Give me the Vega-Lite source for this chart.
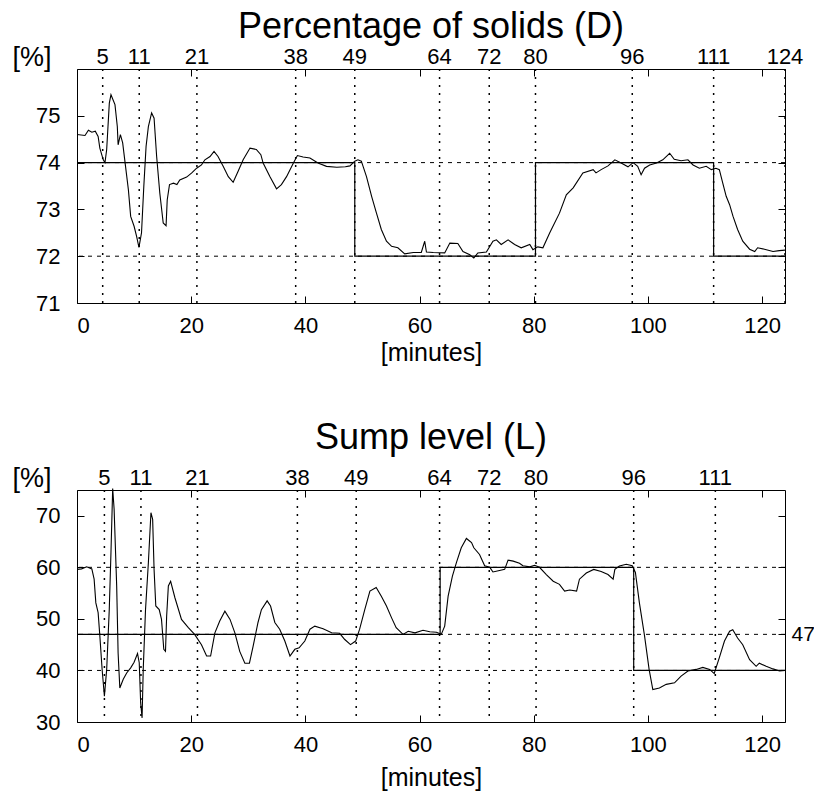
{
  "$schema": "https://vega.github.io/schema/vega-lite/v6.json",
  "padding": {"left": 11, "top": 8, "right": 0, "bottom": 0},
  "spacing": 53,
  "config": {
    "font": "Liberation Sans",
    "view": {"stroke": "black", "strokeWidth": 1},
    "axis": {"labelFont": "Liberation Sans", "labelColor": "black", "tickColor": "black", "domain": false, "grid": false, "titleFont": "Liberation Sans", "titleColor": "black", "titleFontWeight": "normal"},
    "title": {"font": "Liberation Sans", "fontWeight": "normal", "color": "black", "fontSize": 36}
  },
  "datasets": {
    "D": [
      {"t":0,"v":74.60},{"t":1.4,"v":74.58},{"t":2.0,"v":74.69},{"t":2.6,"v":74.65},{"t":3.2,"v":74.67},{"t":3.7,"v":74.56},{"t":4.0,"v":74.31},{"t":4.6,"v":74.06},{"t":4.9,"v":74.00},{"t":5.2,"v":74.28},{"t":5.66,"v":75.27},{"t":5.95,"v":75.45},{"t":6.65,"v":75.24},{"t":7.06,"v":74.77},{"t":7.2,"v":74.38},{"t":7.6,"v":74.60},{"t":8.0,"v":74.42},{"t":8.5,"v":73.92},{"t":9.0,"v":73.42},{"t":9.4,"v":72.85},{"t":10.0,"v":72.64},{"t":10.45,"v":72.42},{"t":10.85,"v":72.19},{"t":11.3,"v":72.50},{"t":11.7,"v":73.49},{"t":12.1,"v":74.35},{"t":12.5,"v":74.77},{"t":13.07,"v":75.06},{"t":13.5,"v":74.95},{"t":13.95,"v":74.13},{"t":14.5,"v":73.35},{"t":15.1,"v":72.71},{"t":15.6,"v":72.65},{"t":15.8,"v":73.20},{"t":16.2,"v":73.53},{"t":16.9,"v":73.56},{"t":17.5,"v":73.53},{"t":18.0,"v":73.63},{"t":19.2,"v":73.69},{"t":20.1,"v":73.78},{"t":20.95,"v":73.88},{"t":21.8,"v":73.95},{"t":22.4,"v":74.06},{"t":23.3,"v":74.13},{"t":24.0,"v":74.24},{"t":24.7,"v":74.13},{"t":25.6,"v":73.92},{"t":26.5,"v":73.70},{"t":27.35,"v":73.58},{"t":28.2,"v":73.81},{"t":29.1,"v":74.06},{"t":30.3,"v":74.31},{"t":31.4,"v":74.28},{"t":32.2,"v":74.17},{"t":32.6,"v":73.99},{"t":33.8,"v":73.70},{"t":34.95,"v":73.44},{"t":35.8,"v":73.53},{"t":36.7,"v":73.70},{"t":37.9,"v":73.99},{"t":38.6,"v":74.15},{"t":39.6,"v":74.12},{"t":40.8,"v":74.10},{"t":42.2,"v":73.99},{"t":43.7,"v":73.92},{"t":45.5,"v":73.90},{"t":47.0,"v":73.91},{"t":47.8,"v":73.93},{"t":48.65,"v":74.03},{"t":49.2,"v":74.06},{"t":49.8,"v":74.03},{"t":50.7,"v":73.70},{"t":51.6,"v":73.28},{"t":52.45,"v":72.92},{"t":53.3,"v":72.57},{"t":54.2,"v":72.32},{"t":55.1,"v":72.21},{"t":56.2,"v":72.18},{"t":57.4,"v":72.05},{"t":58.9,"v":72.08},{"t":60.3,"v":72.08},{"t":60.9,"v":72.32},{"t":61.2,"v":72.09},{"t":62.4,"v":72.08},{"t":64.4,"v":72.07},{"t":65.3,"v":72.28},{"t":66.7,"v":72.27},{"t":67.6,"v":72.10},{"t":68.8,"v":72.03},{"t":69.5,"v":71.96},{"t":70.2,"v":72.07},{"t":71.7,"v":72.09},{"t":72.85,"v":72.32},{"t":73.45,"v":72.35},{"t":74.3,"v":72.25},{"t":75.5,"v":72.35},{"t":76.65,"v":72.25},{"t":77.8,"v":72.18},{"t":79.3,"v":72.25},{"t":79.85,"v":72.14},{"t":80.7,"v":72.20},{"t":81.6,"v":72.18},{"t":82.8,"v":72.50},{"t":84.5,"v":72.92},{"t":85.7,"v":73.31},{"t":86.9,"v":73.46},{"t":88.6,"v":73.78},{"t":90.4,"v":73.85},{"t":90.9,"v":73.78},{"t":91.8,"v":73.85},{"t":93.0,"v":73.93},{"t":94.2,"v":74.06},{"t":95.3,"v":73.99},{"t":96.5,"v":73.91},{"t":97.4,"v":74.00},{"t":98.2,"v":73.92},{"t":98.8,"v":73.74},{"t":99.4,"v":73.88},{"t":100.3,"v":73.95},{"t":101.5,"v":73.99},{"t":102.6,"v":74.06},{"t":103.8,"v":74.20},{"t":104.6,"v":74.07},{"t":105.8,"v":74.04},{"t":107.0,"v":74.06},{"t":107.9,"v":73.95},{"t":109.0,"v":73.88},{"t":110.2,"v":73.92},{"t":111.1,"v":73.85},{"t":111.9,"v":73.88},{"t":112.5,"v":73.85},{"t":113.1,"v":73.56},{"t":113.7,"v":73.28},{"t":114.3,"v":73.10},{"t":114.9,"v":72.85},{"t":115.7,"v":72.57},{"t":116.6,"v":72.32},{"t":117.8,"v":72.15},{"t":118.7,"v":72.10},{"t":119.2,"v":72.18},{"t":120.4,"v":72.15},{"t":121.9,"v":72.10},{"t":123.0,"v":72.12},{"t":124.0,"v":72.13}
    ],
    "L": [
      {"t":0,"v":59.6},{"t":0.8,"v":59.7},{"t":1.7,"v":60.1},{"t":2.6,"v":59.7},{"t":3.0,"v":57.7},{"t":3.3,"v":53.1},{"t":3.7,"v":51.2},{"t":4.0,"v":46.7},{"t":4.4,"v":40.2},{"t":4.8,"v":35.0},{"t":5.2,"v":40.2},{"t":5.65,"v":51.8},{"t":5.95,"v":62.9},{"t":6.25,"v":75.3},{"t":6.5,"v":71.3},{"t":6.95,"v":56.4},{"t":7.2,"v":43.4},{"t":7.5,"v":36.6},{"t":8.1,"v":38.3},{"t":8.7,"v":39.5},{"t":9.4,"v":40.5},{"t":10.0,"v":41.6},{"t":10.6,"v":43.3},{"t":10.9,"v":41.5},{"t":11.15,"v":33.7},{"t":11.4,"v":30.8},{"t":11.6,"v":40.2},{"t":12.0,"v":51.8},{"t":12.5,"v":60.9},{"t":12.95,"v":70.6},{"t":13.25,"v":69.3},{"t":13.5,"v":59.6},{"t":13.8,"v":52.5},{"t":14.4,"v":51.8},{"t":14.8,"v":49.9},{"t":15.2,"v":44.1},{"t":15.5,"v":43.7},{"t":15.7,"v":50.5},{"t":16.0,"v":56.4},{"t":16.4,"v":57.3},{"t":17.15,"v":54.1},{"t":18.3,"v":49.9},{"t":19.5,"v":48.3},{"t":20.6,"v":47.0},{"t":21.8,"v":45.0},{"t":22.7,"v":42.8},{"t":23.4,"v":42.8},{"t":24.15,"v":47.3},{"t":25.0,"v":49.6},{"t":25.9,"v":51.5},{"t":26.8,"v":49.9},{"t":27.65,"v":47.3},{"t":28.5,"v":43.7},{"t":29.4,"v":41.4},{"t":30.2,"v":41.4},{"t":30.85,"v":44.7},{"t":31.7,"v":49.3},{"t":32.3,"v":51.8},{"t":33.3,"v":53.5},{"t":33.9,"v":52.5},{"t":34.65,"v":49.3},{"t":35.5,"v":48.0},{"t":36.4,"v":45.7},{"t":37.3,"v":42.8},{"t":38.15,"v":44.1},{"t":38.9,"v":44.4},{"t":39.9,"v":45.7},{"t":40.8,"v":48.0},{"t":41.65,"v":48.6},{"t":43.1,"v":48.1},{"t":44.6,"v":47.3},{"t":46.0,"v":47.2},{"t":46.9,"v":46.0},{"t":47.9,"v":45.0},{"t":48.8,"v":45.7},{"t":49.5,"v":48.0},{"t":50.4,"v":51.8},{"t":51.3,"v":55.4},{"t":52.4,"v":56.1},{"t":53.3,"v":54.4},{"t":54.2,"v":52.5},{"t":55.1,"v":50.2},{"t":55.9,"v":48.3},{"t":57.1,"v":47.0},{"t":58.0,"v":47.6},{"t":59.2,"v":47.3},{"t":60.6,"v":47.8},{"t":61.8,"v":47.5},{"t":62.95,"v":47.4},{"t":63.8,"v":47.0},{"t":64.4,"v":48.6},{"t":65.0,"v":54.4},{"t":65.75,"v":58.3},{"t":66.45,"v":60.9},{"t":67.3,"v":63.8},{"t":68.2,"v":65.6},{"t":69.1,"v":64.8},{"t":69.5,"v":63.8},{"t":70.5,"v":62.5},{"t":71.4,"v":60.3},{"t":72.3,"v":60.0},{"t":72.85,"v":59.1},{"t":74.0,"v":59.4},{"t":74.9,"v":59.6},{"t":75.5,"v":61.4},{"t":76.4,"v":61.2},{"t":77.5,"v":60.8},{"t":78.1,"v":60.3},{"t":79.3,"v":60.1},{"t":80.15,"v":60.4},{"t":81.0,"v":60.0},{"t":82.2,"v":58.6},{"t":83.4,"v":57.3},{"t":84.5,"v":56.7},{"t":85.4,"v":55.4},{"t":86.3,"v":55.6},{"t":87.5,"v":55.4},{"t":88.0,"v":57.7},{"t":89.2,"v":58.9},{"t":90.5,"v":59.6},{"t":91.8,"v":59.2},{"t":93.0,"v":58.6},{"t":93.9,"v":57.7},{"t":94.2,"v":59.6},{"t":95.0,"v":60.25},{"t":96.2,"v":60.6},{"t":97.25,"v":60.3},{"t":97.8,"v":59.0},{"t":98.5,"v":53.1},{"t":99.4,"v":46.7},{"t":100.2,"v":40.2},{"t":100.85,"v":36.3},{"t":102.0,"v":36.6},{"t":103.2,"v":37.3},{"t":104.65,"v":37.6},{"t":105.8,"v":38.9},{"t":107.0,"v":39.9},{"t":108.45,"v":40.2},{"t":109.6,"v":40.6},{"t":110.8,"v":40.2},{"t":111.6,"v":39.4},{"t":112.5,"v":42.5},{"t":113.4,"v":45.7},{"t":114.3,"v":47.6},{"t":114.85,"v":47.9},{"t":115.7,"v":46.3},{"t":116.6,"v":45.0},{"t":117.8,"v":42.1},{"t":118.95,"v":40.8},{"t":119.5,"v":41.4},{"t":120.7,"v":40.8},{"t":121.9,"v":40.3},{"t":123.05,"v":39.9},{"t":124.0,"v":40.0}
    ],
    "spD": [{"t":0,"v":74},{"t":48.65,"v":72},{"t":80.3,"v":74},{"t":111.5,"v":72},{"t":124,"v":72}],
    "spL": [{"t":0,"v":47},{"t":63.6,"v":60},{"t":97.5,"v":40},{"t":124,"v":40}],
    "hD": [{"y":74},{"y":72}],
    "hL": [{"y":60},{"y":47},{"y":40}],
    "evD": [{"t":4.5,"label":"5"},{"t":10.9,"label":"11"},{"t":21,"label":"21"},{"t":38.3,"label":"38"},{"t":48.65,"label":"49"},{"t":63.5,"label":"64"},{"t":72.2,"label":"72"},{"t":80.3,"label":"80"},{"t":97.25,"label":"96"},{"t":111.5,"label":"111"},{"t":124,"label":"124"}],
    "evL": [{"t":4.8,"label":"5"},{"t":11.2,"label":"11"},{"t":21.1,"label":"21"},{"t":38.6,"label":"38"},{"t":48.9,"label":"49"},{"t":63.5,"label":"64"},{"t":72.2,"label":"72"},{"t":80.4,"label":"80"},{"t":97.5,"label":"96"},{"t":111.8,"label":"111"}]
  },
  "vconcat": [
    {
      "width": 708, "height": 234,
      "title": {"text": "Percentage of solids (D)", "offset": -3},
      "layer": [
        {"data": {"name": "hD"}, "mark": {"type": "rule", "strokeDash": [4, 5], "color": "black", "strokeWidth": 1},
         "encoding": {"y": {"field": "y", "type": "quantitative", "scale": {"domain": [71, 76], "nice": false, "zero": false}, "axis": null}}},
        {"data": {"name": "evD"}, "mark": {"type": "rule", "strokeDash": [2, 6], "color": "black", "strokeWidth": 1.5},
         "encoding": {"x": {"field": "t", "type": "quantitative", "scale": {"domain": [0, 124], "nice": false}, "axis": null}}},
        {"data": {"name": "evD"}, "mark": {"type": "text", "fontSize": 22, "baseline": "alphabetic", "dy": -5, "color": "black"},
         "encoding": {"x": {"field": "t", "type": "quantitative", "axis": null}, "y": {"datum": 76, "type": "quantitative", "axis": null}, "text": {"field": "label"}}},
        {"data": {"name": "spD"}, "mark": {"type": "line", "interpolate": "step-after", "color": "black", "strokeWidth": 1.2},
         "encoding": {
           "x": {"field": "t", "type": "quantitative", "axis": {"orient": "top", "values": [0, 20, 40, 60, 80, 100, 120], "labels": false, "tickSize": -7, "title": null}},
           "y": {"field": "v", "type": "quantitative", "axis": {"orient": "right", "values": [71, 72, 73, 74, 75], "labels": false, "tickSize": -7, "title": null}}}},
        {"data": {"name": "D"}, "mark": {"type": "line", "color": "black", "strokeWidth": 1.1},
         "encoding": {
           "x": {"field": "t", "type": "quantitative", "axis": {"orient": "bottom", "values": [0, 20, 40, 60, 80, 100, 120], "tickSize": -7, "labelFontSize": 22, "labelPadding": 19, "title": "[minutes]", "titleFontSize": 25, "titlePadding": 4}},
           "y": {"field": "v", "type": "quantitative", "axis": {"orient": "left", "values": [71, 72, 73, 74, 75], "tickSize": -7, "labelFontSize": 22, "labelPadding": 24, "title": "[%]", "titleFontSize": 27, "titleAngle": 0, "titleAlign": "left", "titleBaseline": "alphabetic", "titleX": -65, "titleY": -4}}}}
      ]
    },
    {
      "width": 708, "height": 232,
      "title": {"text": "Sump level (L)", "offset": 7},
      "layer": [
        {"data": {"name": "hL"}, "mark": {"type": "rule", "strokeDash": [4, 5], "color": "black", "strokeWidth": 1},
         "encoding": {"y": {"field": "y", "type": "quantitative", "scale": {"domain": [30, 75], "nice": false, "zero": false}, "axis": null}}},
        {"data": {"name": "evL"}, "mark": {"type": "rule", "strokeDash": [2, 6], "color": "black", "strokeWidth": 1.5},
         "encoding": {"x": {"field": "t", "type": "quantitative", "scale": {"domain": [0, 124], "nice": false}, "axis": null}}},
        {"data": {"name": "evL"}, "mark": {"type": "text", "fontSize": 22, "baseline": "alphabetic", "dy": -5, "color": "black"},
         "encoding": {"x": {"field": "t", "type": "quantitative", "axis": null}, "y": {"datum": 75, "type": "quantitative", "axis": null}, "text": {"field": "label"}}},
        {"data": {"name": "spL"}, "mark": {"type": "line", "interpolate": "step-after", "color": "black", "strokeWidth": 1.2},
         "encoding": {
           "x": {"field": "t", "type": "quantitative", "axis": {"orient": "top", "values": [0, 20, 40, 60, 80, 100, 120], "labels": false, "tickSize": -7, "title": null}},
           "y": {"field": "v", "type": "quantitative", "axis": {"orient": "right", "values": [30, 40, 47, 50, 60, 70], "labelExpr": "datum.value == 47 ? '47' : ''", "labelFontSize": 21, "labelPadding": 13, "tickSize": -7, "title": null}}}},
        {"data": {"name": "L"}, "mark": {"type": "line", "color": "black", "strokeWidth": 1.1},
         "encoding": {
           "x": {"field": "t", "type": "quantitative", "axis": {"orient": "bottom", "values": [0, 20, 40, 60, 80, 100, 120], "tickSize": -7, "labelFontSize": 22, "labelPadding": 19, "title": "[minutes]", "titleFontSize": 25, "titlePadding": 10}},
           "y": {"field": "v", "type": "quantitative", "axis": {"orient": "left", "values": [30, 40, 50, 60, 70], "tickSize": -7, "labelFontSize": 22, "labelPadding": 24, "title": "[%]", "titleFontSize": 27, "titleAngle": 0, "titleAlign": "left", "titleBaseline": "alphabetic", "titleX": -65, "titleY": -4}}}}
      ]
    }
  ]
}
